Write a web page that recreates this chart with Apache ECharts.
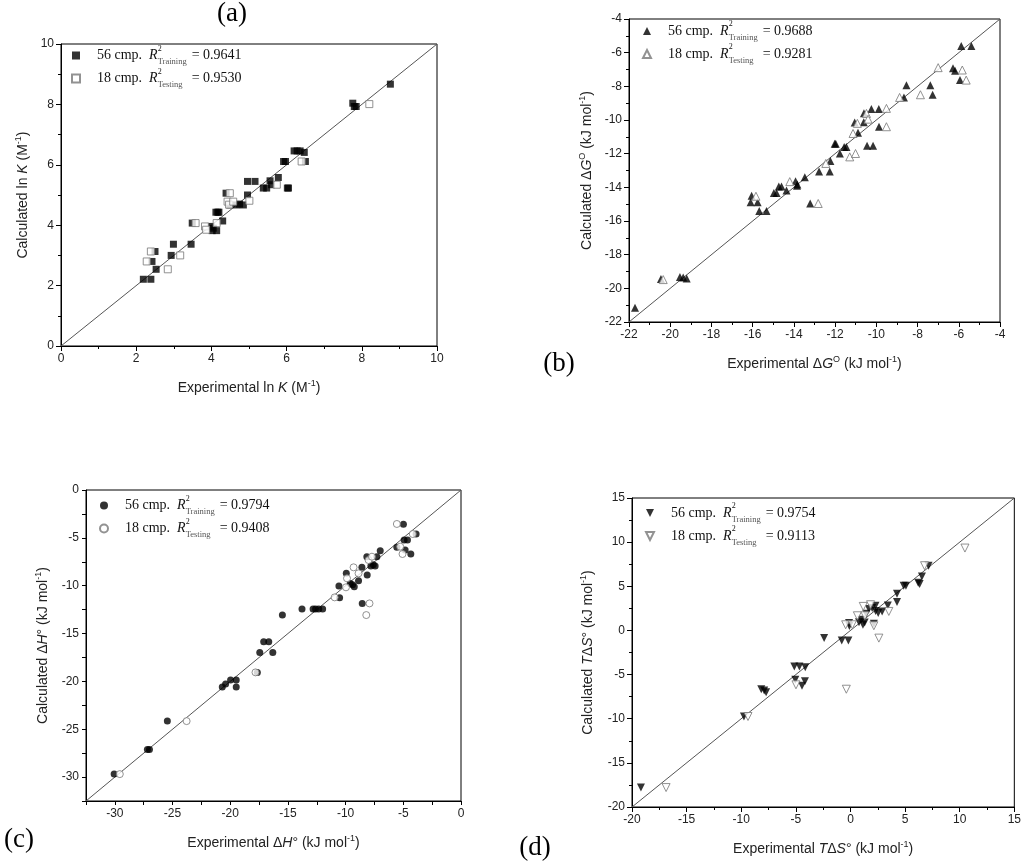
<!DOCTYPE html>
<html>
<head>
<meta charset="utf-8">
<script src="https://cdn.jsdelivr.net/npm/echarts@6/dist/echarts.min.js"></script>
<style>
html, body { margin: 0; background: #fff; }
#chart { width: 1024px; height: 867px; }
</style>
</head>
<body>
<div id="chart"></div>
<script>
// points are [experimental, calculated]

// (a) ln K
let trainA = [[2.19,2.21],[2.39,2.21],[2.53,2.54],[2.42,2.80],[2.50,3.13],[2.93,3.0],[2.99,3.37],[3.46,3.37],
    [3.49,4.07],[3.99,3.96],[4.02,3.82],[4.05,3.9],[4.14,3.82],[4.12,4.43],[4.17,4.43],[4.2,4.43],[4.3,4.14],
    [4.39,5.06],[4.49,4.67],[4.67,4.67],[4.75,4.70],[4.85,4.67],[4.96,5.0],[4.96,5.45],[5.16,5.45],[5.38,5.23],
    [5.47,5.23],[5.56,5.47],[5.6,5.34],[5.78,5.58],[5.92,6.11],[5.97,6.11],[6.02,5.23],[6.05,5.23],[6.2,6.46],
    [6.28,6.46],[6.36,6.46],[6.47,6.41],[6.5,6.11],[7.76,8.04],[7.8,7.93],[7.85,7.93],[8.76,8.67]];
let testA = [[2.28,2.80],[2.39,3.13],[2.84,2.54],[3.17,3.0],[3.58,4.07],[3.83,3.96],[3.86,3.85],[4.14,4.07],
    [4.49,5.06],[4.43,4.78],[4.47,4.68],[4.58,4.78],[5.01,4.81],[5.74,5.34],[6.4,6.11],[8.2,8.01]];

// (b) dG
let trainB = [[-21.71,-21.15],[-19.53,-19.33],[-19.37,-19.36],[-19.2,-19.42],[-20.45,-19.44],[-16.1,-14.88],
    [-16.05,-14.5],[-15.76,-14.88],[-15.68,-15.4],[-15.33,-15.4],[-14.97,-14.33],[-14.84,-14.33],[-14.73,-13.95],
    [-14.6,-13.95],[-14.36,-14.19],[-13.92,-13.64],[-13.85,-13.9],[-13.83,-13.83],[-13.47,-13.4],[-13.21,-14.96],
    [-12.78,-13.06],[-12.26,-13.06],[-12.23,-12.43],[-12.02,-11.41],[-11.97,-11.41],[-11.77,-11.99],[-11.56,-11.61],
    [-11.45,-11.61],[-11.05,-10.15],[-10.89,-10.76],[-10.61,-10.13],[-10.6,-9.6],[-10.45,-11.53],[-10.16,-11.53],
    [-10.24,-9.35],[-9.88,-9.35],[-9.87,-10.4],[-8.66,-8.66],[-8.54,-7.93],[-7.38,-7.93],[-7.27,-8.5],
    [-6.28,-6.93],[-6.18,-7.07],[-5.94,-7.63],[-5.88,-5.6],[-5.39,-5.6]];
let testB = [[-20.34,-19.48],[-15.84,-14.53],[-14.2,-13.66],[-12.82,-14.96],[-12.45,-12.58],[-11.29,-12.19],
    [-11.01,-11.99],[-11.13,-10.8],[-10.92,-10.2],[-10.48,-9.61],[-10.4,-9.95],[-9.51,-9.31],[-9.51,-10.4],
    [-8.87,-8.66],[-7.86,-8.5],[-7.0,-6.89],[-5.83,-7.03],[-5.64,-7.63]];

// (c) dH
let trainC = [[-30.06,-29.69],[-27.18,-27.11],[-27.0,-27.11],[-25.45,-24.15],[-20.69,-20.59],[-20.4,-20.28],
    [-19.97,-19.86],[-19.48,-19.86],[-19.48,-20.59],[-17.65,-19.06],[-17.44,-16.97],[-17.1,-15.85],[-16.66,-15.85],
    [-16.31,-16.97],[-15.48,-13.07],[-13.78,-12.44],[-12.82,-12.44],[-12.6,-12.44],[-12.33,-12.44],[-11.99,-12.44],
    [-10.58,-10.03],[-10.52,-11.25],[-9.94,-8.71],[-9.6,-9.76],[-9.4,-9.9],[-9.25,-10.1],[-8.88,-9.48],
    [-8.59,-8.08],[-8.56,-11.85],[-8.16,-6.97],[-8.13,-8.89],[-7.81,-7.94],[-7.6,-7.8],[-7.44,-7.94],
    [-7.29,-6.97],[-7.0,-6.34],[-5.56,-5.99],[-4.99,-3.59],[-4.93,-5.23],[-4.64,-5.23],[-4.84,-6.27],
    [-4.35,-6.69],[-3.89,-4.6]];
let testC = [[-29.57,-29.69],[-23.78,-24.15],[-17.81,-19.06],[-10.95,-11.22],[-9.97,-10.17],[-9.88,-9.23],
    [-9.31,-8.08],[-8.88,-8.71],[-8.21,-13.07],[-7.93,-11.85],[-8.01,-7.32],[-7.72,-6.97],[-5.56,-3.55],
    [-5.27,-5.92],[-5.07,-6.69],[-4.18,-4.6]];

// (d) TdS
let trainD = [[-19.18,-17.8],[-9.75,-9.75],[-8.17,-6.66],[-7.9,-6.8],[-7.72,-7.0],[-5.14,-4.09],[-4.68,-4.09],
    [-5.05,-5.6],[-4.44,-6.28],[-4.17,-5.75],[-4.14,-4.16],[-2.41,-0.87],[-0.8,-1.14],[-0.19,-1.14],[-0.13,0.83],
    [-0.1,0.5],[0.78,0.94],[0.99,1.21],[1.14,0.64],[1.3,0.9],[1.44,1.89],[1.69,2.42],[1.99,2.53],[2.14,0.75],
    [2.29,2.79],[2.3,2.2],[2.54,1.96],[2.9,2.15],[3.42,2.83],[4.26,3.21],[4.26,4.15],[4.87,5.06],[5.08,5.06],
    [6.2,5.4],[6.33,5.25],[6.54,6.12],[7.15,7.33]];
let testD = [[-16.88,-17.8],[-9.38,-9.75],[-4.99,-6.16],[-0.38,-6.66],[-0.44,0.64],[0.17,0.64],[0.63,1.66],
    [1.17,2.72],[1.84,2.91],[1.32,1.66],[2.14,0.53],[2.6,-0.87],[3.51,2.15],[6.78,7.33],[10.48,9.33]];

// axis ranges [min, max, interval]
let rangeA = [0, 10, 2];
let rangeB = [-22, -4, 2];
let rangeC = [-32.5, 0, 2.5];
let rangeD = [-20, 15, 5];

let r2Train = ['0.9641', '0.9688', '0.9794', '0.9754'];
let r2Test = ['0.9530', '0.9281', '0.9408', '0.9113'];
let panelTags = ['(a)', '(b)', '(c)', '(d)'];

let chart = echarts.init(document.getElementById('chart'));

let sans = 'Liberation Sans, Arial, sans-serif';
let serif = 'Liberation Serif, Times New Roman, serif';

let nameRich = {
    n: { fontFamily: sans, fontSize: 14, color: '#222', lineHeight: 18 },
    i: { fontFamily: sans, fontSize: 14, color: '#222', fontStyle: 'italic', lineHeight: 18 },
    s: { fontFamily: sans, fontSize: 9, color: '#222', lineHeight: 9, verticalAlign: 'top' }
};

let downTri = 'path://M0,0L10,0L5,10Z';

let panels = [
    {
        key: 'a', range: rangeA, train: trainA, test: testA, symbol: 'rect', size: 7, rotate: 0, icon: 'rect',
        grid: { left: 61, top: 44, width: 376, height: 302 },
        xName: '{n|Experimental ln }{i|K}{n| (M}{s|-1}{n|)}',
        yName: '{n|Calculated ln }{i|K}{n| (M}{s|-1}{n|)}',
        yGap: 29,
        legend: { left: 71, top: 44.5 }
    },
    {
        key: 'b', range: rangeB, train: trainB, test: testB, symbol: 'triangle', size: 8, rotate: 0, icon: 'triangle',
        grid: { left: 629, top: 19, width: 371, height: 303 },
        xName: '{n|Experimental \u0394}{i|G}{s|O}{n| (kJ mol}{s|-1}{n|)}',
        yName: '{n|Calculated \u0394}{i|G}{s|O}{n| (kJ mol}{s|-1}{n|)}',
        yGap: 33,
        legend: { left: 642, top: 20 }
    },
    {
        key: 'c', range: rangeC, train: trainC, test: testC, symbol: 'circle', size: 7, rotate: 0, icon: 'circle',
        grid: { left: 86, top: 490, width: 375, height: 311 },
        xName: '{n|Experimental \u0394}{i|H}{n|\u00b0 (kJ mol}{s|-1}{n|)}',
        yName: '{n|Calculated \u0394}{i|H}{n|\u00b0 (kJ mol}{s|-1}{n|)}',
        yGap: 34,
        legend: { left: 99, top: 494.5 }
    },
    {
        key: 'd', range: rangeD, train: trainD, test: testD, symbol: 'triangle', size: 8, rotate: 180, icon: downTri,
        grid: { left: 632, top: 498, width: 384, height: 309 },
        xName: '{n|Experimental }{i|T}{n|\u0394}{i|S}{n|\u00b0 (kJ mol}{s|-1}{n|)}',
        yName: '{n|Calculated }{i|T}{n|\u0394}{i|S}{n|\u00b0 (kJ mol}{s|-1}{n|)}',
        yGap: 35,
        legend: { left: 645, top: 502 }
    }
];

let labelText = {};
panels.forEach(function (p, k) {
    labelText[p.key + '-train'] = '{sp| }{t|56 cmp.  }{r|R}{sup|2}{sub|Training}{t|= ' + r2Train[k] + '}';
    labelText[p.key + '-test'] = '{sp| }{t|18 cmp.  }{r|R}{sup|2}{sub|Testing}{t|= ' + r2Test[k] + '}';
});

function makeAxis(p, k, isX) {
    let r = p.range;
    let fine = p.key === 'c';
    return {
        type: 'value',
        gridIndex: k,
        min: r[0],
        max: r[1],
        interval: r[2],
        name: isX ? p.xName : p.yName,
        nameLocation: 'middle',
        nameGap: isX ? 33 : p.yGap,
        nameTextStyle: { rich: nameRich },
        axisLine: { show: true, onZero: false, lineStyle: { color: '#000', width: 1 } },
        axisTick: { show: true, length: fine ? 4 : 5, lineStyle: { color: '#000' } },
        minorTick: { show: !fine, splitNumber: 2, length: 3, lineStyle: { color: '#000' } },
        axisLabel: {
            color: '#222', fontSize: 12, fontFamily: sans, margin: 7,
            formatter: function (v) {
                if (fine && Math.abs(v % 5) > 1e-6) return '';
                return String(v);
            }
        },
        splitLine: { show: false }
    };
}

let option = {
    animation: false,
    backgroundColor: '#fff',
    grid: [],
    xAxis: [],
    yAxis: [],
    legend: [],
    series: [],
    graphic: []
};

panels.forEach(function (p, k) {
    option.grid.push(Object.assign({ show: true, borderColor: '#000', borderWidth: 1 }, p.grid));
    option.xAxis.push(makeAxis(p, k, true));
    option.yAxis.push(makeAxis(p, k, false));

    // y = x line
    option.series.push({
        type: 'line', xAxisIndex: k, yAxisIndex: k, silent: true, symbol: 'none', z: 1,
        lineStyle: { color: '#555', width: 1 },
        data: [[p.range[0], p.range[0]], [p.range[1], p.range[1]]]
    });
    option.series.push({
        name: p.key + '-train', type: 'scatter', xAxisIndex: k, yAxisIndex: k,
        symbol: p.symbol, symbolSize: p.size, symbolRotate: p.rotate, z: 3,
        itemStyle: { color: '#000' },
        data: p.train
    });
    option.series.push({
        name: p.key + '-test', type: 'scatter', xAxisIndex: k, yAxisIndex: k,
        symbol: p.symbol, symbolSize: p.size, symbolRotate: p.rotate, z: 4,
        itemStyle: { color: '#fff', borderColor: '#777', borderWidth: 1 },
        data: p.test
    });

    option.legend.push({
        data: [
            { name: p.key + '-train', icon: p.icon },
            { name: p.key + '-test', icon: p.icon }
        ],
        left: p.legend.left, top: p.legend.top, padding: 0,
        orient: 'vertical', itemWidth: 8, itemHeight: 8, itemGap: 1,
        symbolRotate: 0,
        selectedMode: false,
        formatter: function (name) { return labelText[name]; },
        textStyle: {
            rich: {
                sp: { fontSize: 10, width: 12, lineHeight: 22 },
                t: { fontFamily: serif, fontSize: 14, color: '#111', lineHeight: 22 },
                r: { fontFamily: serif, fontSize: 14, color: '#111', fontStyle: 'italic', lineHeight: 22 },
                sup: { fontFamily: serif, fontSize: 8, color: '#111', verticalAlign: 'top', lineHeight: 12, width: 0 },
                sub: { fontFamily: serif, fontSize: 8.5, color: '#555', verticalAlign: 'bottom', lineHeight: 11, width: 34 }
            }
        }
    });
});

// panel letters
let tagPos = [[232, 14], [559, 364], [19, 840], [535, 848]];
tagPos.forEach(function (pos, k) {
    option.graphic.push({
        type: 'text', x: pos[0], y: pos[1],
        style: {
            text: panelTags[k], font: '27px ' + serif, fill: '#000',
            align: 'center', verticalAlign: 'middle'
        }
    });
});

chart.setOption(option);
</script>
</body>
</html>
